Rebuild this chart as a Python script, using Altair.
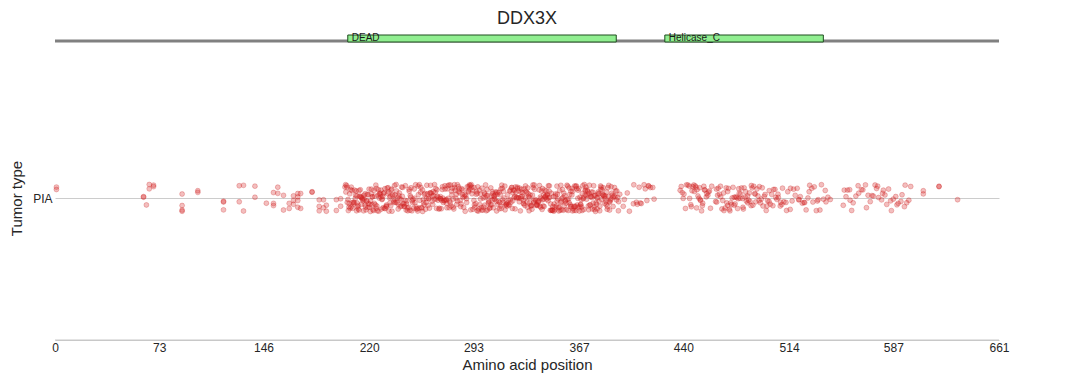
import altair as alt
import pandas as pd

# ---- data ----
gene = "DDX3X"
protein_length = 661
tumor_type = "PIA"

domain_names = ["DEAD", "Helicase_C"]
domain_starts = [205, 427]
domain_ends = [393, 538]

# isolated mutation positions (aa) and number of hits at each
single_pos = [1, 62, 64, 66, 69, 89, 100, 118, 129, 132, 140, 148, 153, 156, 160,
              164, 167, 170, 172, 180, 185, 188, 190, 197, 200, 608, 619, 632]
single_cnt = [2, 2, 1, 2, 2, 4, 2, 3, 2, 2, 2, 1, 3, 2, 2,
              2, 3, 4, 2, 2, 3, 2, 2, 2, 2, 2, 2, 1]

# dense regions: mutation counts per position bin
bin_start = [203, 210, 220, 230, 240, 250, 260, 270, 280, 290, 300, 310, 320, 330,
             340, 350, 360, 370, 380, 390, 395, 405,
             437, 445, 455, 462, 470, 480, 490, 500, 510, 520, 530,
             551, 560, 569, 580, 590]
bin_end = [210, 220, 230, 240, 250, 260, 270, 280, 290, 300, 310, 320, 330, 340,
           350, 360, 370, 380, 390, 395, 405, 420,
           445, 455, 460, 470, 480, 490, 500, 510, 520, 530, 543,
           560, 569, 580, 590, 600]
bin_count = [22, 34, 34, 32, 30, 30, 30, 32, 28, 30, 34, 32, 34, 34,
             36, 34, 36, 36, 34, 12, 6, 14,
             10, 20, 8, 14, 20, 20, 16, 14, 10, 11, 12,
             8, 7, 10, 9, 8]

x_ticks = [0, 73, 146, 220, 293, 367, 440, 514, 587, 661]

# ---- build tables ----
positions = []
widths = []
for p, c in zip(single_pos, single_cnt):
    positions += [p] * c
    widths += [0] * c
for s, e, c in zip(bin_start, bin_end, bin_count):
    positions += [s + (e - s) * (k + 0.5) / c for k in range(c)]
    widths += [(e - s) / c] * c
muts = pd.DataFrame({"pos": positions, "w": widths, "i": range(len(positions)),
                     "tumor": tumor_type})

domains = pd.DataFrame({"name": domain_names, "start": domain_starts, "end": domain_ends})
protein = pd.DataFrame({"start": [0], "end": [protein_length]})
baseline = pd.DataFrame({"start": [0], "end": [protein_length]})

FONT = "Liberation Sans"
xscale = alt.Scale(domain=[0, protein_length], nice=False, zero=False)

points = alt.Chart(muts).transform_calculate(
    jitter="((abs(sin(datum.i * 12.9898 + 1.3) * 43758.5453) % 1) - 0.5) * 0.19",
    xpos="datum.pos + ((abs(sin(datum.i * 78.233 + 0.7) * 24634.6345) % 1) - 0.5) * datum.w"
).mark_circle(
    size=24, color="#d62728", fillOpacity=0.3, stroke="#c81e1e",
    strokeOpacity=0.35, strokeWidth=0.8
).encode(
    x=alt.X("xpos:Q", scale=xscale,
            axis=alt.Axis(values=x_ticks, title="Amino acid position", grid=False,
                          ticks=False, domain=True, domainColor="#c8c8c8", domainWidth=1,
                          labelFontSize=12, labelColor="#262626", labelFont=FONT,
                          labelFlush=False, labelOverlap=False,
                          titleFontSize=15, titleFont=FONT, titleColor="#262626",
                          titleFontWeight="normal", labelPadding=2, titlePadding=4)),
    y=alt.Y("jitter:Q", scale=alt.Scale(domain=[-1, 1], nice=False),
            axis=alt.Axis(values=[0], labelExpr="'" + tumor_type + "'", title="Tumor type",
                          grid=True, gridColor="#cccccc", gridWidth=1, ticks=False,
                          domain=False, labelFontSize=12, labelColor="#262626",
                          labelFont=FONT, titleFontSize=15, titleFont=FONT,
                          titleColor="#262626", titleFontWeight="normal",
                          labelPadding=3, titlePadding=8)),
)

axis_line = alt.Chart(baseline).mark_rule(color="#c8c8c8", strokeWidth=1).encode(
    x=alt.X("start:Q", scale=xscale), x2="end:Q", y=alt.value(284)
)

line = alt.Chart(protein).mark_rule(color="#808080", strokeWidth=3).encode(
    x=alt.X("start:Q", scale=xscale), x2="end:Q", y=alt.value(-15)
)

boxes = alt.Chart(domains).mark_rect(
    fill="#90ee90", stroke="#1f4d1f", strokeWidth=1
).encode(
    x=alt.X("start:Q", scale=xscale), x2="end:Q", y=alt.value(-21), y2=alt.value(-14)
)

labels = alt.Chart(domains).mark_text(
    align="left", baseline="middle", dx=4, fontSize=10, font=FONT, color="#1a1a1a"
).encode(
    x=alt.X("start:Q", scale=xscale), y=alt.value(-18), text="name:N"
)

chart = alt.layer(axis_line, points, line, boxes, labels).properties(
    width=944, height=284,
    background="white",
    title=alt.TitleParams(gene, fontSize=18, font=FONT, color="#262626",
                          fontWeight="normal", anchor="middle", frame="group", offset=5),
    autosize=alt.AutoSizeParams(type="none"),
    padding={"left": 55, "right": 73, "top": 56, "bottom": 45},
).configure_view(strokeWidth=0)

chart.save("out.html", embed_options={"renderer": "svg", "actions": False})
